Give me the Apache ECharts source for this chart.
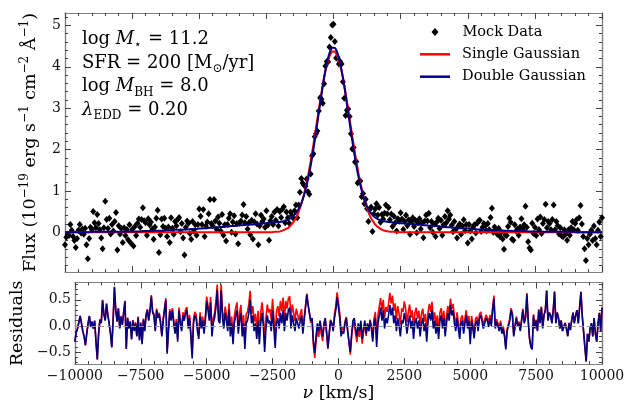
<!DOCTYPE html>
<html><head><meta charset="utf-8">
<script src="https://cdn.jsdelivr.net/npm/echarts@6/dist/echarts.min.js"></script>
<style>html,body{margin:0;padding:0;background:#fff}#c{width:634px;height:403px}</style>
</head><body><div id="c"></div>
<script>
// ---- data (velocity grid: -10000 .. 10000 km/s, step 50) ----
const velocityStart = -10000, velocityStep = 50;
const fluxMock = [
-0.30,-0.12,-0.05,-0.08,0.19,0.05,-0.10,-0.20,-0.37,-0.15,0.05,0.19,-0.02,0.08,-0.05,0.10,-0.30,-0.64,-0.15,0.12,
0.06,0.50,0.23,0.11,0.43,0.21,0.06,-0.14,-0.40,0.11,0.75,0.31,0.09,0.34,-0.04,0.19,0.03,0.26,0.48,-0.43,
0.16,-0.04,0.09,-0.25,0.11,-0.08,0.07,-0.18,0.18,-0.26,0.07,-0.33,0.14,-0.08,0.22,0.32,0.12,0.31,0.59,0.28,
0.23,-0.07,0.33,0.18,0.25,0.08,-0.17,0.13,0.34,0.53,-0.49,-0.06,0.32,0.14,0.34,0.10,-0.10,0.13,-0.25,0.35,
0.10,-0.05,0.26,0.16,0.31,0.36,0.01,0.21,-0.14,-0.55,0.12,0.27,0.22,-0.03,-0.17,0.26,0.03,0.18,-0.07,0.19,
0.56,0.39,0.19,0.55,-0.10,0.15,0.25,0.45,0.79,0.21,0.16,0.79,0.27,0.07,0.37,0.22,0.03,0.43,-0.07,0.18,
-0.21,0.19,0.34,0.45,0.00,0.25,0.40,-0.04,0.21,-0.28,0.22,0.27,0.42,0.67,0.23,0.38,0.08,0.23,-0.06,0.29,
-0.16,0.25,0.45,0.20,-0.30,0.16,0.41,0.26,0.32,0.12,0.52,0.17,-0.19,0.28,0.38,0.19,0.49,0.29,0.55,0.15,
0.50,0.36,0.56,0.62,0.23,0.49,0.35,0.22,0.49,0.41,0.34,0.52,0.66,0.35,0.66,0.97,1.30,1.19,1.14,1.11,
1.29,0.98,0.92,1.41,1.85,1.90,2.31,2.38,2.45,2.93,3.25,3.22,3.12,3.59,4.02,4.13,4.12,4.48,4.71,5.01,
5.03,4.61,4.21,4.23,4.07,4.13,4.07,3.64,3.24,2.82,2.95,2.98,2.80,2.38,2.01,2.05,1.70,1.71,1.19,1.23,
1.24,0.86,0.94,0.69,0.80,0.57,0.26,0.55,0.61,0.02,0.44,0.56,0.69,0.42,0.60,0.24,0.43,0.32,0.46,0.66,
0.45,0.60,0.30,0.44,0.14,0.39,0.23,0.03,0.33,0.27,0.47,0.32,0.07,0.26,0.41,0.16,0.30,-0.05,0.25,0.35,
0.14,0.29,-0.01,0.23,0.33,0.08,0.23,-0.13,0.27,0.42,0.27,0.46,0.11,0.26,0.00,0.20,-0.10,0.25,0.34,0.09,
0.29,-0.07,0.18,0.38,0.23,0.52,0.32,0.42,0.17,0.01,0.26,0.06,-0.14,0.15,0.20,-0.05,0.15,0.30,0.04,0.19,
-0.26,0.19,0.03,-0.16,0.13,0.18,-0.02,0.22,0.27,0.29,0.02,0.12,0.21,0.16,0.04,0.21,0.06,0.36,0.58,0.00,
0.13,0.05,-0.05,0.10,-0.10,0.00,-0.16,-0.41,-0.06,-0.08,0.14,0.34,0.24,-0.17,-0.19,0.18,0.03,0.08,-0.07,0.13,
0.33,0.08,0.18,0.63,0.12,-0.23,-0.38,-0.43,0.22,-0.03,0.12,-0.08,0.32,0.07,0.37,-0.03,0.21,0.31,0.68,0.11,
0.26,0.21,0.06,0.31,0.66,0.06,0.26,0.16,-0.04,0.11,-0.09,-0.11,0.06,-0.04,-0.19,0.06,-0.07,0.11,0.26,0.06,
0.21,0.30,0.05,0.35,0.65,0.20,-0.10,-0.40,-0.68,-0.15,-0.30,-0.05,0.05,-0.20,0.15,-0.15,-0.30,0.05,0.25,-0.10,0.35
];
const doubleGaussian = [
0,0,0,0,0,0,0,0,0,0,0,0,0,0,0,0,0,0,0,0,
.01,.01,.01,.01,.01,.01,.01,.01,.01,.01,.01,.01,.01,.01,.01,.01,.01,.01,.01,.01,
.01,.01,.01,.01,.01,.02,.02,.02,.02,.02,.02,.02,.02,.02,.02,.02,.02,.03,.03,.03,
.03,.03,.03,.03,.03,.03,.03,.03,.04,.04,.04,.04,.04,.04,.04,.05,.05,.05,.05,.05,
.05,.05,.06,.06,.06,.06,.06,.06,.06,.07,.07,.07,.07,.07,.08,.08,.08,.08,.08,.09,
.09,.09,.09,.10,.10,.10,.10,.10,.11,.11,.11,.11,.12,.12,.12,.12,.13,.13,.13,.13,
.14,.14,.14,.15,.15,.15,.15,.16,.16,.16,.17,.17,.17,.17,.18,.18,.18,.18,.19,.19,
.19,.20,.20,.20,.20,.21,.21,.21,.22,.22,.22,.22,.23,.23,.23,.24,.24,.24,.25,.25,
.25,.26,.26,.27,.28,.29,.30,.32,.34,.36,.39,.42,.46,.50,.56,.62,.70,.79,.89,1.01,
1.14,1.28,1.44,1.61,1.80,2.00,2.21,2.43,2.65,2.88,3.10,3.32,3.54,3.74,3.92,4.08,4.22,4.33,4.41,4.46,
4.48,4.46,4.41,4.33,4.22,4.08,3.92,3.74,3.54,3.32,3.10,2.88,2.65,2.43,2.21,2.00,1.80,1.61,1.44,1.28,
1.14,1.01,.89,.79,.70,.62,.56,.50,.46,.42,.39,.36,.34,.32,.30,.29,.28,.27,.26,.26,
.25,.25,.25,.24,.24,.24,.23,.23,.23,.22,.22,.22,.22,.21,.21,.21,.20,.20,.20,.20,
.19,.19,.19,.18,.18,.18,.18,.17,.17,.17,.17,.16,.16,.16,.15,.15,.15,.15,.14,.14,
.14,.13,.13,.13,.13,.12,.12,.12,.12,.11,.11,.11,.11,.10,.10,.10,.10,.10,.09,.09,
.09,.09,.08,.08,.08,.08,.08,.07,.07,.07,.07,.07,.06,.06,.06,.06,.06,.06,.06,.05,
.05,.05,.05,.05,.05,.05,.04,.04,.04,.04,.04,.04,.04,.03,.03,.03,.03,.03,.03,.03,
.03,.03,.03,.03,.02,.02,.02,.02,.02,.02,.02,.02,.02,.02,.02,.02,.01,.01,.01,.01,
.01,.01,.01,.01,.01,.01,.01,.01,.01,.01,.01,.01,.01,.01,.01,.01,.01,.01,.01,.01,
.01,0,0,0,0,0,0,0,0,0,0,0,0,0,0,0,0,0,0,0,0
];
const singleGaussian = [
0,0,0,0,0,0,0,0,0,0,0,0,0,0,0,0,0,0,0,0,
0,0,0,0,0,0,0,0,0,0,0,0,0,0,0,0,0,0,0,0,
0,0,0,0,0,0,0,0,0,0,0,0,0,0,0,0,0,0,0,0,
0,0,0,0,0,0,0,0,0,0,0,0,0,0,0,0,0,0,0,0,
0,0,0,0,0,0,0,0,0,0,0,0,0,0,0,0,0,0,0,0,
0,0,0,0,0,0,0,0,0,0,0,0,0,0,0,0,0,0,0,0,
0,0,0,0,0,0,0,0,0,0,0,0,0,0,0,0,0,0,0,0,
0,0,0,0,0,0,0,0,0,0,0,0,0,0,0,.01,.01,.01,.01,.02,
.02,.03,.04,.05,.07,.08,.10,.13,.16,.19,.24,.29,.34,.41,.49,.58,.68,.79,.91,1.05,
1.19,1.35,1.53,1.71,1.91,2.11,2.32,2.53,2.74,2.96,3.16,3.37,3.56,3.74,3.90,4.04,4.16,4.25,4.32,4.37,
4.38,4.37,4.32,4.25,4.16,4.04,3.90,3.74,3.56,3.37,3.16,2.96,2.74,2.53,2.32,2.11,1.91,1.71,1.53,1.35,
1.19,1.05,.91,.79,.68,.58,.49,.41,.34,.29,.24,.19,.16,.13,.10,.08,.07,.05,.04,.03,
.02,.02,.01,.01,.01,.01,0,0,0,0,0,0,0,0,0,0,0,0,0,0,
0,0,0,0,0,0,0,0,0,0,0,0,0,0,0,0,0,0,0,0,
0,0,0,0,0,0,0,0,0,0,0,0,0,0,0,0,0,0,0,0,
0,0,0,0,0,0,0,0,0,0,0,0,0,0,0,0,0,0,0,0,
0,0,0,0,0,0,0,0,0,0,0,0,0,0,0,0,0,0,0,0,
0,0,0,0,0,0,0,0,0,0,0,0,0,0,0,0,0,0,0,0,
0,0,0,0,0,0,0,0,0,0,0,0,0,0,0,0,0,0,0,0,
0,0,0,0,0,0,0,0,0,0,0,0,0,0,0,0,0,0,0,0,0
];
const seriesNames = ['Mock Data', 'Single Gaussian', 'Double Gaussian'];
const fluxTicks = [0, 1, 2, 3, 4, 5];
const residTicks = [-0.5, 0, 0.5];
const annotationLines = [
  '{r|log }{i|M}{s|⋆}{r| = 11.2}',
  '{r|SFR = 200 [M}{s|⊙}{r|/yr]}',
  '{r|log }{i|M}{s|BH}{r| = 8.0}',
  '{i|λ}{s|EDD}{r| = 0.20}'
];

// ---- build ----
const velocity = fluxMock.map((_, i) => velocityStart + velocityStep * i);
const residSingle = fluxMock.map((f, i) => +(f - singleGaussian[i]).toFixed(3));
const residDouble = fluxMock.map((f, i) => +(f - doubleGaussian[i]).toFixed(3));
const pairs = arr => arr.map((y, i) => [velocity[i], y]);

const FONT = 'DejaVu Serif';
const FRAME = '#808080';
const TICK = '#444';
const minus = s => s.replace('-', '\u2212');

function minorList(lo, hi, step, majorStep) {
  const out = [];
  for (let k = Math.ceil(lo / step - 1e-9); k * step <= hi + 1e-9; k++) {
    const v = +(k * step).toFixed(4);
    if (Math.abs(v / majorStep - Math.round(v / majorStep)) > 1e-6) out.push(v);
  }
  return out;
}

function xAx(grid, pos, labels) {
  return {
    type: 'value', gridIndex: grid, position: pos, min: -10000, max: 10000, interval: 2500,
    axisLine: { show: true, onZero: false, lineStyle: { color: FRAME, width: 1.2 } },
    axisTick: { show: true, inside: true, length: 6, lineStyle: { color: TICK } },
    minorTick: { show: true, splitNumber: 5, length: 3, lineStyle: { color: TICK } },
    axisLabel: { show: labels, margin: 5, fontFamily: FONT, fontSize: 14, color: '#111',
      formatter: v => minus(String(v)) },
    splitLine: { show: false }, minorSplitLine: { show: false }
  };
}
function yAx(grid, pos, min, max, vals, labels, fmt, len) {
  return {
    type: 'value', gridIndex: grid, position: pos, min: min, max: max,
    axisLine: { show: true, onZero: false, lineStyle: { color: FRAME, width: 1.2 } },
    axisTick: { show: true, inside: true, length: len, customValues: vals, lineStyle: { color: TICK } },
    axisLabel: { show: labels, customValues: vals, margin: 4, fontFamily: FONT, fontSize: 14, color: '#111', formatter: fmt },
    splitLine: { show: false }
  };
}
const fmtTop = v => minus(String(v));
const fmtRes = v => minus(v.toFixed(1));
const topMin = -0.96, topMax = 5.3, resMin = -0.73, resMax = 0.83;
const topMinor = minorList(topMin, topMax, 0.2, 1);
const resMinor = minorList(resMin, resMax, 0.1, 0.5);

const yAxes = [
  yAx(0, 'left', topMin, topMax, fluxTicks, true, fmtTop, 6),
  yAx(0, 'left', topMin, topMax, topMinor, false, fmtTop, 3),
  yAx(0, 'right', topMin, topMax, fluxTicks, false, fmtTop, 6),
  yAx(0, 'right', topMin, topMax, topMinor, false, fmtTop, 3),
  yAx(1, 'left', resMin, resMax, residTicks, true, fmtRes, 6),
  yAx(1, 'left', resMin, resMax, resMinor, false, fmtRes, 3),
  yAx(1, 'right', resMin, resMax, residTicks, false, fmtRes, 6),
  yAx(1, 'right', resMin, resMax, resMinor, false, fmtRes, 3)
];
Object.assign(yAxes[0], {
  name: 'Flux (10{sup|−19} erg s{sup|−1} cm{sup|−2} Å{sup|−1})',
  nameLocation: 'middle', nameRotate: 90, nameGap: 15,
  nameTextStyle: { fontFamily: FONT, fontSize: 17.5, color: '#000', lineHeight: 22,
    rich: { sup: { fontFamily: FONT, fontSize: 12, lineHeight: 12, verticalAlign: 'top', color: '#000' } } }
});
Object.assign(yAxes[4], {
  name: 'Residuals', nameLocation: 'middle', nameRotate: 90, nameGap: 35,
  nameTextStyle: { fontFamily: FONT, fontSize: 17.5, color: '#000' }
});
const xAxes = [xAx(0, 'bottom', false), xAx(0, 'top', false), xAx(1, 'bottom', true), xAx(1, 'top', false)];
Object.assign(xAxes[2], {
  name: '{i|ν} [km/s]', nameLocation: 'middle', nameGap: 17,
  nameTextStyle: { fontFamily: FONT, fontSize: 17.5, color: '#000',
    rich: { i: { fontFamily: FONT, fontSize: 17.5, fontStyle: 'italic', color: '#000' } } }
});

const richAnn = {
  r: { fontFamily: FONT, fontSize: 18, color: '#000', lineHeight: 24 },
  i: { fontFamily: FONT, fontSize: 18, fontStyle: 'italic', color: '#000', lineHeight: 24 },
  s: { fontFamily: FONT, fontSize: 12, color: '#000', lineHeight: 12, verticalAlign: 'bottom' }
};
const annY = [39, 63, 86.5, 110];

const chart = echarts.init(document.getElementById('c'), null, { renderer: 'canvas' });
chart.setOption({
  animation: false,
  backgroundColor: '#fff',
  grid: [
    { left: 65, right: 32, top: 13, height: 259, containLabel: false },
    { left: 65, right: 32, top: 282.5, height: 85, containLabel: false }
  ],
  xAxis: xAxes,
  yAxis: yAxes,
  legend: [
    { data: [{ name: seriesNames[0], icon: 'diamond' }], orient: 'vertical', left: 431.5, top: 23, padding: 0,
      itemWidth: 7, itemHeight: 8,
      textStyle: { fontFamily: FONT, fontSize: 14.5, color: '#000', lineHeight: 18, padding: [0, 0, 0, 19] } },
    { data: [{ name: seriesNames[1], icon: 'rect' }, { name: seriesNames[2], icon: 'rect' }],
      orient: 'vertical', left: 420, top: 45.3, padding: 0,
      itemWidth: 30, itemHeight: 2.5, itemGap: 4.4,
      textStyle: { fontFamily: FONT, fontSize: 14.5, color: '#000', lineHeight: 18, padding: [0, 0, 0, 7] } }
  ],
  graphic: annotationLines.map((t, k) => ({
    type: 'text', x: 82, y: annY[k], silent: true,
    style: { text: t, rich: richAnn, align: 'left', verticalAlign: 'middle', fill: '#000' }
  })),
  series: [
    { name: seriesNames[0], type: 'scatter', xAxisIndex: 0, yAxisIndex: 0, data: pairs(fluxMock),
      symbol: 'diamond', symbolSize: [6, 7], itemStyle: { color: '#000', opacity: 1 }, silent: true },
    { name: seriesNames[1], type: 'line', xAxisIndex: 0, yAxisIndex: 0, data: pairs(singleGaussian),
      symbol: 'none', lineStyle: { color: '#ff0000', width: 2 }, itemStyle: { color: '#ff0000' }, silent: true },
    { name: seriesNames[2], type: 'line', xAxisIndex: 0, yAxisIndex: 0, data: pairs(doubleGaussian),
      symbol: 'none', lineStyle: { color: '#000080', width: 2 }, itemStyle: { color: '#000080' }, silent: true },
    { name: 'res_single', type: 'line', xAxisIndex: 2, yAxisIndex: 4, data: pairs(residSingle),
      symbol: 'none', lineStyle: { color: '#ff0000', width: 1.6 }, silent: true },
    { name: 'res_double', type: 'line', xAxisIndex: 2, yAxisIndex: 4, data: pairs(residDouble),
      symbol: 'none', lineStyle: { color: '#000080', width: 1.6 }, silent: true,
      markLine: { silent: true, symbol: 'none', label: { show: false },
        lineStyle: { color: '#999', type: [5, 3], width: 1.2 }, data: [{ yAxis: 0 }] } }
  ]
});
</script></body></html>
